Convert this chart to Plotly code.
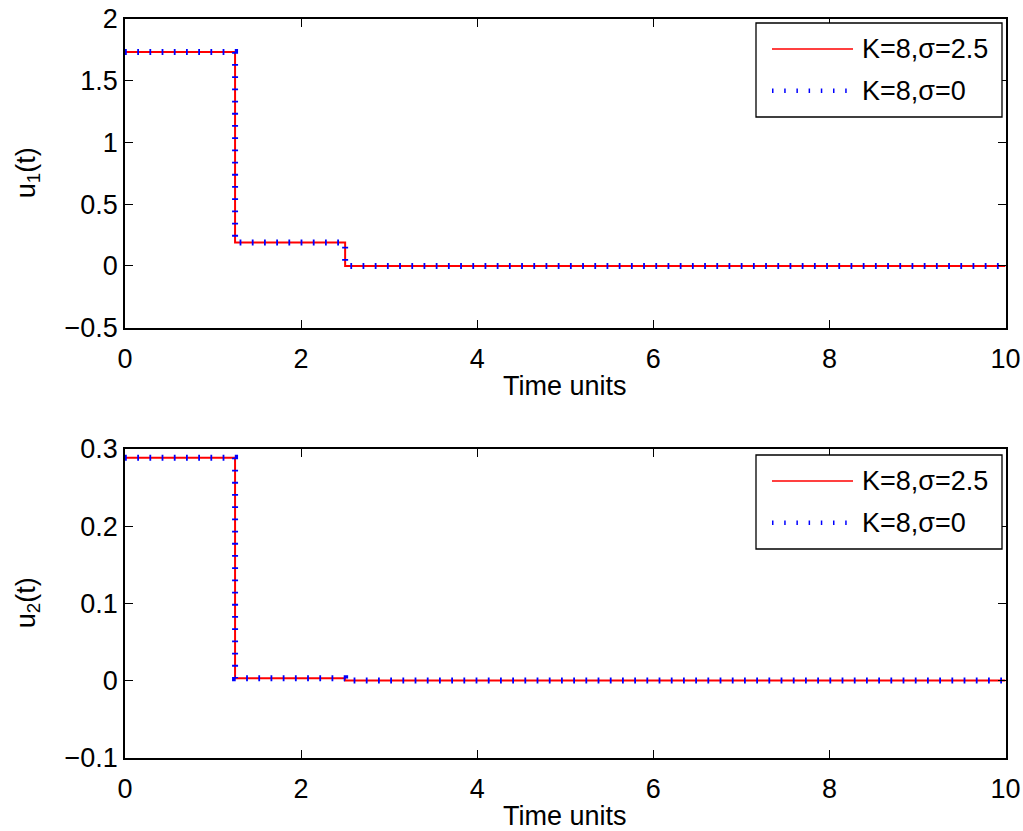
import plotly.graph_objects as go

# Control signals (piecewise constant, switching at t = 1.25 and t = 2.5)
t_switch = [0, 1.25, 2.5, 10]
u1_sigma25 = [1.732, 0.19, 0.0, 0.0]
u1_sigma0 = [1.732, 0.19, 0.0, 0.0]
u2_sigma25 = [0.2887, 0.003, 0.0, 0.0]
u2_sigma0 = [0.2887, 0.003, 0.0, 0.0]

series_names = ["K=8,σ=2.5", "K=8,σ=0"]

x_ticks = [0, 2, 4, 6, 8, 10]
x_tick_text = ["0", "2", "4", "6", "8", "10"]
y1_ticks = [-0.5, 0, 0.5, 1, 1.5, 2]
y1_tick_text = ["\u22120.5", "0", "0.5", "1", "1.5", "2"]
y2_ticks = [-0.1, 0, 0.1, 0.2, 0.3]
y2_tick_text = ["\u22120.1", "0", "0.1", "0.2", "0.3"]

W, H = 1023, 831
FONT = "Liberation Sans, Arial, Helvetica, sans-serif"
TICK_SIZE = 27
LABEL_SIZE = 27
LEGEND_SIZE = 27

# plot-area boxes in pixels: (left, right, top, bottom)
top_box = (125, 1005.5, 19, 327.7)
bot_box = (125, 1005.5, 449, 757.7)


def xdom(b):
    return [b[0] / W, b[1] / W]


def ydom(b):
    return [1 - b[3] / H, 1 - b[2] / H]


fig = go.Figure()

red_line = dict(color="#ff0000", width=2)
blue_line = dict(color="#0000ff", width=6, dash="1.8px,10.4px")
blue_legend = dict(color="#0000ff", width=4.5, dash="1.5px,10.7px")
line_styles = [dict(color="#ff0000", width=1.3), blue_legend]

fig.add_trace(go.Scatter(x=t_switch, y=u1_sigma25, mode="lines", line_shape="hv",
                         line=red_line, name=series_names[0], xaxis="x", yaxis="y"))
fig.add_trace(go.Scatter(x=t_switch, y=u1_sigma0, mode="lines", line_shape="hv",
                         line=blue_line, name=series_names[1], xaxis="x", yaxis="y"))
fig.add_trace(go.Scatter(x=t_switch, y=u2_sigma25, mode="lines", line_shape="hv",
                         line=red_line, name=series_names[0], xaxis="x2", yaxis="y2"))
fig.add_trace(go.Scatter(x=t_switch, y=u2_sigma0, mode="lines", line_shape="hv",
                         line=blue_line, name=series_names[1], xaxis="x2", yaxis="y2"))

axis_common = dict(
    showgrid=False, zeroline=False, showline=True, linecolor="black", linewidth=1.5,
    mirror="allticks", ticks="inside", ticklen=8, tickwidth=1, tickcolor="black",
    tickfont=dict(family=FONT, size=TICK_SIZE, color="black"), automargin=False,
)

fig.update_layout(
    width=W, height=H,
    margin=dict(l=0, r=0, t=0, b=0),
    paper_bgcolor="white", plot_bgcolor="white",
    font=dict(family=FONT, color="black"),
    showlegend=False,
    xaxis=dict(axis_common, domain=xdom(top_box), range=[0, 10], anchor="y",
               tickvals=x_ticks, ticktext=x_tick_text, ticklabelstandoff=6),
    yaxis=dict(axis_common, domain=ydom(top_box), range=[-0.5, 2], anchor="x",
               tickvals=y1_ticks, ticktext=y1_tick_text, ticklabelstandoff=0),
    xaxis2=dict(axis_common, domain=xdom(bot_box), range=[0, 10], anchor="y2",
                tickvals=x_ticks, ticktext=x_tick_text, ticklabelstandoff=6),
    yaxis2=dict(axis_common, domain=ydom(bot_box), range=[-0.1, 0.3], anchor="x2",
                tickvals=y2_ticks, ticktext=y2_tick_text, ticklabelstandoff=0),
)

# axis titles
label_font = dict(family=FONT, size=LABEL_SIZE, color="black")
for box, ylab in ((top_box, "u<sub>1</sub>(t)"), (bot_box, "u<sub>2</sub>(t)")):
    cx = (box[0] + box[1]) / 2
    cy = (box[2] + box[3]) / 2
    fig.add_annotation(xref="paper", yref="paper", x=cx / W, y=1 - (box[3] + 58) / H,
                       text="Time units", showarrow=False, font=label_font,
                       xanchor="center", yanchor="middle")
    fig.add_annotation(xref="paper", yref="paper", x=28 / W, y=1 - cy / H,
                       text=ylab, showarrow=False, font=label_font, textangle=-90,
                       xanchor="center", yanchor="middle")

# boxed legends with long line samples, one per panel
legend_font = dict(family=FONT, size=LEGEND_SIZE, color="black")
for top in (23, 455):
    left, right = 756, 1002
    bottom = top + 94
    fig.add_shape(type="rect", xref="paper", yref="paper",
                  x0=left / W, x1=right / W, y0=1 - bottom / H, y1=1 - top / H,
                  line=dict(color="black", width=1.3), fillcolor="white", layer="above")
    for i, (name, style) in enumerate(zip(series_names, line_styles)):
        yc = top + 26 + i * 41.7
        fig.add_shape(type="line", xref="paper", yref="paper",
                      x0=772 / W, x1=853 / W, y0=1 - yc / H, y1=1 - yc / H,
                      line=style, layer="above")
        fig.add_annotation(xref="paper", yref="paper", x=860 / W, y=1 - yc / H,
                           text=name, showarrow=False, font=legend_font,
                           xanchor="left", yanchor="middle")

fig.write_html("out.html")
